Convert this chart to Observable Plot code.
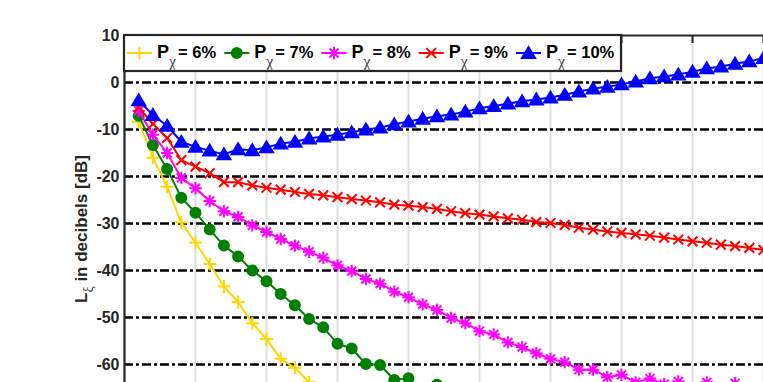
<!DOCTYPE html>
<html><head><meta charset="utf-8">
<script src="https://cdn.jsdelivr.net/npm/d3@7"></script>
<script src="https://cdn.jsdelivr.net/npm/@observablehq/plot@0.6"></script>
<style>
html,body{margin:0;padding:0;overflow:hidden;background:#fff;}
#chart{position:relative;width:763px;height:382px;overflow:hidden;}
#chart svg{display:block;max-width:none !important;width:900px !important;height:500px !important;}
</style></head><body><div id="chart"></div>
<script>
// ---- data (x = sample index starting at 1) ----
const labels = ["6%", "7%", "8%", "9%", "10%"];
const colors = ["#FFD700", "#008000", "#FF00FF", "#FF0000", "#0000FF"];
const p6 = [-8.4, -16.0, -22.2, -29.8, -34.1, -38.6, -43.4, -46.7, -51.2, -54.6, -58.8, -60.7, -63.8, -65.2, -68.0];
const p7 = [-7.1, -13.3, -18.4, -24.5, -27.7, -31.3, -34.7, -37.0, -40.0, -42.3, -45.0, -47.4, -50.3, -52.1, -55.6, -56.6, -59.9, -60.1, -63.3, -62.9, -66.0, -64.3, -67.5, -66.5, -69.0];
const p8 = [-6.0, -11.1, -15.0, -20.3, -22.5, -25.2, -27.4, -28.6, -30.4, -31.8, -33.3, -34.7, -36.0, -37.3, -38.9, -40.1, -41.8, -42.8, -44.5, -45.7, -47.2, -48.4, -50.1, -51.2, -52.9, -53.6, -55.3, -56.3, -57.6, -58.8, -59.5, -61.1, -61.1, -62.7, -62.2, -63.8, -63.0, -64.2, -63.6, -65.5, -63.8, -65.5, -64.0, -66.0, -65.5, -66.0];
const p9 = [-5.3, -8.8, -11.8, -16.5, -17.9, -19.3, -21.2, -21.2, -21.9, -22.4, -22.8, -23.3, -23.7, -24.0, -24.4, -24.8, -25.1, -25.5, -26.0, -26.2, -26.5, -26.9, -27.4, -27.8, -28.1, -28.5, -28.9, -29.2, -29.7, -29.9, -30.3, -30.9, -31.3, -31.7, -32.0, -32.3, -32.6, -33.0, -33.4, -33.8, -34.1, -34.5, -34.8, -35.2, -35.6, -36.0];
const p10 = [-3.8, -6.9, -9.2, -12.6, -13.7, -14.5, -15.3, -14.2, -14.4, -13.8, -13.0, -12.6, -11.9, -11.5, -11.1, -10.6, -10.0, -9.6, -8.9, -8.3, -7.7, -7.2, -6.8, -6.2, -5.5, -5.0, -4.5, -4.0, -3.6, -3.2, -2.6, -1.9, -1.3, -0.9, -0.4, 0.2, 0.9, 1.3, 1.7, 2.3, 3.0, 3.4, 4.0, 4.5, 5.2, 5.8];
const yTicks = [10, 0, -10, -20, -30, -40, -50, -60];
const yGrid = [0, -10, -20, -30, -40, -50, -60, -70];
const xGrid = [5, 10, 15, 20, 25, 30, 35, 40, 45];

// ---- marker shapes (MATLAB-like) ----
const rad = s => Math.sqrt(s / Math.PI);
const symPlus = {draw(c, s){const r = rad(s); c.moveTo(-r,0); c.lineTo(r,0); c.moveTo(0,-r); c.lineTo(0,r);}};
const symCircle = {draw(c, s){const r = rad(s); c.moveTo(r,0); c.arc(0,0,r,0,2*Math.PI); c.closePath();}};
const symStar = {draw(c, s){const r = rad(s), q = r*0.72; c.moveTo(-r,0); c.lineTo(r,0); c.moveTo(0,-r); c.lineTo(0,r); c.moveTo(-q,-q); c.lineTo(q,q); c.moveTo(-q,q); c.lineTo(q,-q);}};
const symTimes = {draw(c, s){const q = rad(s)*0.75; c.moveTo(-q,-q); c.lineTo(q,q); c.moveTo(-q,q); c.lineTo(q,-q);}};
const symTri = {draw(c, s){const r = rad(s); c.moveTo(0,-r*0.95); c.lineTo(r*1.05,r*0.8); c.lineTo(-r*1.05,r*0.8); c.closePath();}};

const seriesVals = [p6, p7, p8, p9, p10];
const markers = [
  {symbol: symPlus, r: 6.5, filled: false},
  {symbol: symCircle, r: 5, filled: true},
  {symbol: symStar, r: 6.2, filled: false},
  {symbol: symTimes, r: 6.5, filled: false},
  {symbol: symTri, r: 6.2, filled: true}
];
const rows = seriesVals.map(v => v.map((y, i) => ({x: i + 1, y})));

const font = "'Liberation Sans', Arial, Helvetica, sans-serif";
const axisColor = "#262626";

const marks = [
  Plot.ruleX(xGrid, {stroke: "#dedede", strokeWidth: 2}),
  Plot.ruleY(yGrid, {stroke: "#000", strokeWidth: 2.4, strokeDasharray: "9,3,3,3"}),
];
rows.forEach((d, k) => {
  const m = markers[k];
  marks.push(Plot.line(d, {x: "x", y: "y", stroke: colors[k], strokeWidth: 2}));
  marks.push(Plot.dot(d, {x: "x", y: "y", symbol: m.symbol, r: m.r,
    stroke: colors[k], strokeWidth: 2, fill: m.filled ? colors[k] : "none"}));
});
marks.push(
  Plot.ruleX(xGrid, {y1: 10, y2: 8.3, stroke: axisColor, strokeWidth: 2}),
  Plot.ruleX([0], {stroke: axisColor, strokeWidth: 2.2}),
  Plot.ruleY([10], {stroke: axisColor, strokeWidth: 2.2}),
  Plot.axisY({ticks: yTicks, tickSize: 0, tickPadding: 5, tickFormat: d => String(d),
    label: null, fontSize: 16, fontWeight: "bold", fill: axisColor})
);

const svg = Plot.plot({
  width: 900, height: 500,
  marginLeft: 124, marginRight: 66, marginTop: 35, marginBottom: 42,
  x: {domain: [0, 50], axis: null},
  y: {domain: [-80, 10], axis: null},
  style: {fontFamily: font, background: "#fff", overflow: "visible"},
  marks
});

// ---- y label with subscript ----
const s = d3.select(svg);
const lab = s.append("text")
  .attr("transform", "translate(87,229) rotate(-90)")
  .attr("text-anchor", "middle")
  .attr("font-family", font).attr("font-size", 17).attr("font-weight", "bold").attr("fill", axisColor);
lab.append("tspan").text("L");
lab.append("tspan").attr("dy", 6).attr("font-size", 14).attr("font-weight", "normal")
  .attr("font-family", "'Liberation Serif', serif").attr("fill", "#444").text("ξ");
lab.append("tspan").attr("dy", -6).text(" in decibels [dB]");

// ---- legend (inside axes, top-left) ----
const lg = s.append("g").attr("text-anchor", "start");
lg.append("rect").attr("x", 124).attr("y", 35).attr("width", 497).attr("height", 36)
  .attr("fill", "#fff").attr("stroke", axisColor).attr("stroke-width", 2.2);
labels.forEach((lbl, k) => {
  const x0 = 127 + 97.25 * k, cy = 53, m = markers[k];
  lg.append("line").attr("x1", x0).attr("x2", x0 + 25).attr("y1", cy).attr("y2", cy)
    .attr("stroke", colors[k]).attr("stroke-width", 2);
  const p = d3.path(); m.symbol.draw(p, m.r * m.r * Math.PI);
  lg.append("path").attr("d", p.toString()).attr("transform", `translate(${x0 + 12.5},${cy})`)
    .attr("stroke", colors[k]).attr("stroke-width", 2).attr("fill", m.filled ? colors[k] : "none");
  lg.append("text").attr("x", x0 + 30).attr("y", 58).attr("font-family", font).attr("font-size", 18)
    .attr("font-weight", "bold").attr("fill", "#000").text("P");
  lg.append("text").attr("x", x0 + 42).attr("y", 67).attr("font-family", "'Liberation Serif', serif")
    .attr("font-size", 16).attr("fill", "#444").text("χ");
  lg.append("text").attr("x", x0 + 51).attr("y", 58).attr("font-family", font).attr("font-size", 16.5)
    .attr("font-weight", "bold").attr("fill", "#000").text("= " + lbl);
});

document.getElementById("chart").appendChild(svg);
</script></body></html>
